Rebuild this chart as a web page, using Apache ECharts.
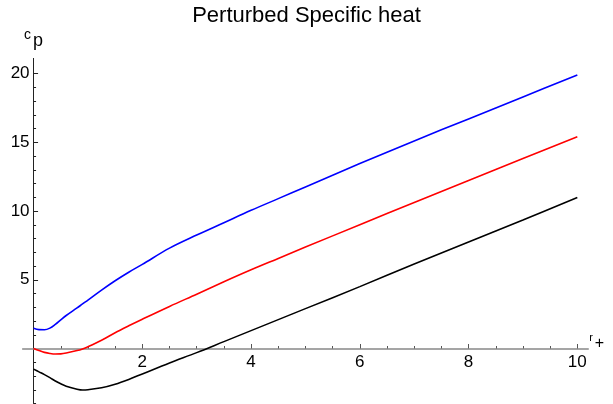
<!DOCTYPE html>
<html>
<head>
<meta charset="utf-8">
<script src="https://cdn.jsdelivr.net/npm/echarts@6/dist/echarts.min.js"></script>
<style>html,body{margin:0;padding:0;background:#fff}#c{width:613px;height:404px}</style>
</head>
<body>
<div id="c"></div>
<script>
const titleText = 'Perturbed Specific heat';
const xs =    [0,    0.1,  0.2,  0.3,  0.4,  0.5,  0.6,  0.8,  0.9,  1.0,  1.25, 1.5,  1.75, 2,    2.5,  3,    3.5,  4,    4.5,  5,    6,     7,     8,     9,     10];
const blue =  [1.47, 1.37, 1.36, 1.48, 1.75, 2.08, 2.4,  2.95, 3.24, 3.52, 4.25, 4.93, 5.55, 6.12, 7.3,  8.25, 9.15, 10.05,10.9, 11.75,13.45, 15.1,  16.7,  18.3,  19.9];
const red =   [0,   -0.15,-0.28,-0.36,-0.4, -0.39,-0.33,-0.15,-0.03, 0.13, 0.6,  1.15, 1.65, 2.13, 3.06, 3.95, 4.85, 5.72, 6.55, 7.38, 9.0,   10.62, 12.22, 13.82, 15.4];
const black = [-1.5,-1.7, -1.9, -2.12,-2.36,-2.57,-2.74,-2.96,-3.02,-3.0, -2.86,-2.6, -2.25,-1.85,-1.05,-0.3,  0.5,  1.3,  2.1,  2.9,  4.5,   6.15,  7.75,  9.35,  10.98];
const xMajor = [2, 4, 6, 8, 10];
const xMinor = [0.5, 1, 1.5, 2.5, 3, 3.5, 4.5, 5, 5.5, 6.5, 7, 7.5, 8.5, 9, 9.5];
const yMajor = [5, 10, 15, 20];
const yMinor = [-4, -3, -2, -1, 1, 2, 3, 4, 6, 7, 8, 9, 11, 12, 13, 14, 16, 17, 18, 19];

const pairs = ys => xs.map((x, i) => [x, ys[i]]);
const FONT = '"Liberation Sans", Arial, sans-serif';
const W = 613, H = 404;
const G = {left: 22.7, right: 24.8, top: 58.4, bottom: 0.5};
const xr = {min: -0.2, max: 10.2};
const yr = {min: -4, max: 21.1};
// place the axes through the origin (axis offsets derived from the scales)
const gw = W - G.left - G.right, gh = H - G.top - G.bottom;
const xAxisOffset = -gh * (0 - yr.min) / (yr.max - yr.min);
const yAxisOffset = -gw * (0 - xr.min) / (xr.max - xr.min);

const chart = echarts.init(document.getElementById('c'), null, {renderer: 'canvas'});
chart.setOption({
  animation: false,
  title: {text: titleText, left: 'center', top: 0, textStyle: {fontFamily: FONT, fontWeight: 'normal', fontSize: 22, color: '#000'}},
  grid: {left: G.left, right: G.right, top: G.top, bottom: G.bottom, containLabel: false, outerBoundsMode: 'none'},
  xAxis: [
    {type: 'value', min: xr.min, max: xr.max, position: 'bottom', offset: xAxisOffset,
     axisLine: {onZero: false, lineStyle: {color: '#888', width: 1.6}},
     axisTick: {inside: true, length: 4.5, customValues: xMajor, lineStyle: {color: '#555', width: 1}},
     axisLabel: {customValues: xMajor, margin: 5, fontFamily: FONT, fontSize: 17, color: '#000'},
     splitLine: {show: false},
     name: '{s|r}{b|+}', nameLocation: 'end', nameGap: 0,
     nameTextStyle: {align: 'left', verticalAlign: 'bottom', padding: [0, 0, -7, 1],
       rich: {s: {fontFamily: FONT, fontSize: 11, color: '#000', padding: [0,2,12,0]}, b: {fontFamily: FONT, fontSize: 16, color: '#000'}}}
    },
    {type: 'value', min: xr.min, max: xr.max, position: 'bottom', offset: xAxisOffset,
     axisLine: {show: false, onZero: false},
     axisTick: {inside: true, length: 2.5, customValues: xMinor, lineStyle: {color: '#555', width: 1}},
     axisLabel: {show: false}, splitLine: {show: false}
    }
  ],
  yAxis: [
    {type: 'value', min: yr.min, max: yr.max, position: 'left', offset: yAxisOffset,
     axisLine: {onZero: false, lineStyle: {color: '#222', width: 1}},
     axisTick: {inside: true, length: 4.5, customValues: yMajor, lineStyle: {color: '#222', width: 1}},
     axisLabel: {customValues: yMajor, margin: 4, fontFamily: FONT, fontSize: 17, color: '#000'},
     splitLine: {show: false},
     name: '{s|c}{b|p}', nameLocation: 'end', nameGap: 4,
     nameTextStyle: {align: 'center', verticalAlign: 'bottom',
       rich: {s: {fontFamily: FONT, fontSize: 14, color: '#000', padding: [0,2,12,0]}, b: {fontFamily: FONT, fontSize: 18, color: '#000'}}}
    },
    {type: 'value', min: yr.min, max: yr.max, position: 'left', offset: yAxisOffset,
     axisLine: {show: false, onZero: false},
     axisTick: {inside: true, length: 2.5, customValues: yMinor, lineStyle: {color: '#222', width: 1}},
     axisLabel: {show: false}, splitLine: {show: false}
    }
  ],
  series: [
    {type: 'line', data: pairs(blue), smooth: 0.35, showSymbol: false, lineStyle: {color: '#0000ff', width: 1.6}, xAxisIndex: 0, yAxisIndex: 0, z: 5},
    {type: 'line', data: pairs(red), smooth: 0.35, showSymbol: false, lineStyle: {color: '#ff0000', width: 1.6}, xAxisIndex: 0, yAxisIndex: 0, z: 5},
    {type: 'line', data: pairs(black), smooth: 0.35, showSymbol: false, lineStyle: {color: '#000000', width: 1.6}, xAxisIndex: 0, yAxisIndex: 0, z: 5}
  ]
});
</script>
</body>
</html>
